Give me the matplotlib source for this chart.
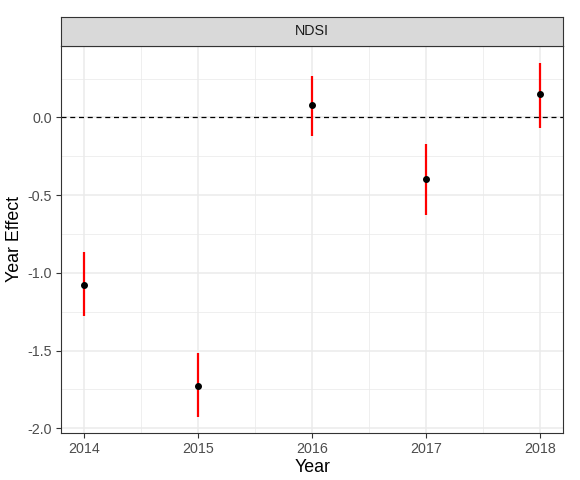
import matplotlib
matplotlib.use("Agg")
import matplotlib.pyplot as plt
from matplotlib.patches import Rectangle
from matplotlib.ticker import MultipleLocator

plt.rcParams['font.family'] = ['Liberation Sans', 'DejaVu Sans']

years = [2014, 2015, 2016, 2017, 2018]
effect = [-1.080, -1.726, 0.077, -0.399, 0.152]
lower = [-1.278, -1.925, -0.118, -0.630, -0.069]
upper = [-0.864, -1.516, 0.264, -0.172, 0.349]
panel_title = "NDSI"

fig = plt.figure(figsize=(5.8, 4.8), dpi=100)
ax = fig.add_axes([0.1052, 0.0973, 0.866, 0.8077])

# grid like theme_bw
ax.set_axisbelow(True)
ax.xaxis.set_major_locator(MultipleLocator(1))
ax.xaxis.set_minor_locator(MultipleLocator(0.5))
ax.yaxis.set_major_locator(MultipleLocator(0.5))
ax.yaxis.set_minor_locator(MultipleLocator(0.25))
ax.grid(which='major', color='#EBEBEB', lw=1.1)
ax.grid(which='minor', color='#EBEBEB', lw=0.55)

ax.axhline(0, color='black', lw=0.9, ls=(0, (4, 3)), zorder=2)
ax.vlines(years, lower, upper, color='red', lw=1.6, zorder=3)
ax.scatter(years, effect, s=16, color='black', zorder=4)

ax.set_xlim(2013.8, 2018.2)
ax.set_ylim(-2.032, 0.462)
ax.set_xticks(years)
ax.set_xticklabels([str(y) for y in years])
ax.yaxis.set_major_formatter(matplotlib.ticker.FormatStrFormatter('%.1f'))

ax.tick_params(which='major', length=3.5, width=0.8, color='#333333',
               labelcolor='#4D4D4D', labelsize=10.3, pad=3)
ax.tick_params(which='minor', length=0)
for s in ax.spines.values():
    s.set_color('#333333')
    s.set_linewidth(0.8)

ax.set_xlabel("Year", fontsize=12.8, labelpad=2)
ax.set_ylabel("Year Effect", fontsize=12.8, labelpad=3)

# facet strip
strip = fig.add_axes([0.1052, 0.905, 0.866, 0.0604])
strip.add_patch(Rectangle((0, 0), 1, 1, transform=strip.transAxes,
                          facecolor='#D9D9D9', edgecolor='none'))
strip.set_xticks([])
strip.set_yticks([])
for s in strip.spines.values():
    s.set_color('#333333')
    s.set_linewidth(0.8)
strip.text(0.5, 0.5, panel_title, ha='center', va='center', fontsize=10.3,
           color='#1A1A1A', transform=strip.transAxes)

fig.savefig("out.png", dpi=100)
